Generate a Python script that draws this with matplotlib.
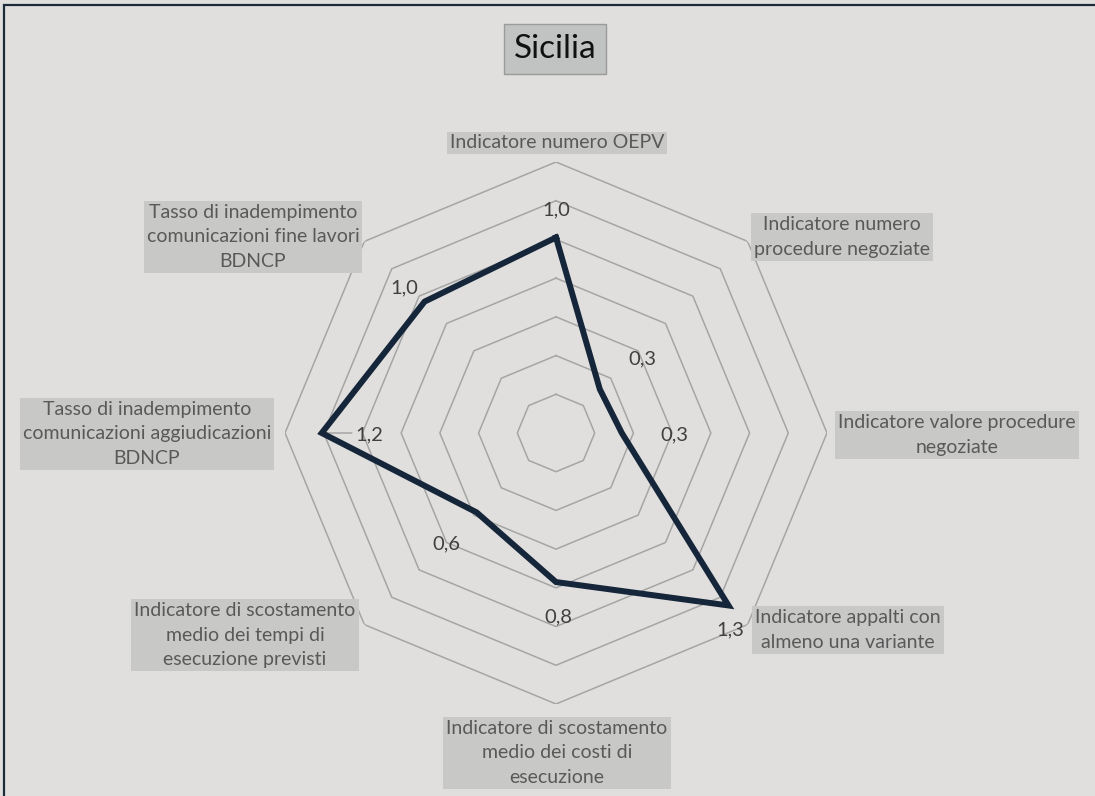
import numpy as np
import matplotlib
matplotlib.use("Agg")
import matplotlib.pyplot as plt
from matplotlib.patches import Rectangle

categories = [
    "Indicatore numero OEPV",
    "Indicatore numero\nprocedure negoziate",
    "Indicatore valore procedure\nnegoziate",
    "Indicatore appalti con\nalmeno una variante",
    "Indicatore di scostamento\nmedio dei costi di\nesecuzione",
    "Indicatore di scostamento\nmedio dei tempi di\nesecuzione previsti",
    "Tasso di inadempimento\ncomunicazioni aggiudicazioni\nBDNCP",
    "Tasso di inadempimento\ncomunicazioni fine lavori\nBDNCP",
]
values = [1.01, 0.32, 0.34, 1.26, 0.77, 0.58, 1.21, 0.96]
rings = [0.2, 0.4, 0.6, 0.8, 1.0, 1.2, 1.4]
title = "Sicilia"

# layout (pixels on a 1095x796 canvas)
W, H = 1095, 796
cx, cy, R = 556, 433, 271
label_pos = [(557, 143), (842, 237), (957, 435), (848, 630),
             (557, 753), (245, 635), (147, 434), (253, 237)]
value_offsets = [(0, -28), (43, -30), (53, 2), (2, 24),
                 (2, 35), (-30, 31), (48, 2), (-20, -14)]

bg = "#e0dfdd"
plt.rcParams['font.family'] = ['Lato', 'DejaVu Sans']

fig = plt.figure(figsize=(W / 100, H / 100), dpi=100)
fig.patch.set_facecolor(bg)

ax = fig.add_axes([(cx - R) / W, (H - cy - R) / H, 2 * R / W, 2 * R / H], polar=True)
ax.set_facecolor("none")
ax.set_theta_offset(np.pi / 2)
ax.set_theta_direction(-1)
ax.set_ylim(0, rings[-1])
ax.grid(False)
ax.spines["polar"].set_visible(False)
ax.set_xticks([])
ax.set_yticks([])

n = len(categories)
angles = np.arange(n) * 2 * np.pi / n
closed = np.append(angles, angles[0])

for r in rings:
    ax.plot(closed, [r] * (n + 1), color="#a5a5a5", lw=1.1, zorder=1)

ax.plot(closed, values + values[:1], color="#15263a", lw=4.3,
        solid_joinstyle="miter", zorder=3)

# small leader line for the left label
ax.annotate("", xy=(angles[6], values[6]), xytext=(30 * 0.72, 0),
            textcoords="offset points",
            arrowprops=dict(arrowstyle="-", color="#a5a5a5", lw=1.1,
                            shrinkA=0, shrinkB=0), zorder=2)

for a, v, (dx, dy) in zip(angles, values, value_offsets):
    ax.annotate(f"{v:.1f}".replace(".", ","), xy=(a, v),
                xytext=(dx * 0.72, -dy * 0.72), textcoords="offset points",
                ha="center", va="center", fontsize=14.5, color="#404040", zorder=4)

for lab, (px, py) in zip(categories, label_pos):
    fig.text(px / W, 1 - py / H, lab, ha="center", va="center", fontsize=14,
             color="#595959", linespacing=1.55,
             bbox=dict(boxstyle="square,pad=0.15", fc="#c8c8c7", ec="none"))

fig.text(555 / W, 1 - 49 / H, title, ha="center", va="center", fontsize=24,
         color="#111111",
         bbox=dict(boxstyle="square,pad=0.3", fc="#c1c2c2", ec="#9a9a9a", lw=1))

# outer frame (only top and left visible in the crop)
fig.patches.append(Rectangle((4 / W, -0.05), 1.1, 1 - 5 / H + 0.05,
                             transform=fig.transFigure, fill=False,
                             ec="#1c2a3a", lw=1.6))

fig.savefig("out.png", dpi=100, facecolor=bg)
